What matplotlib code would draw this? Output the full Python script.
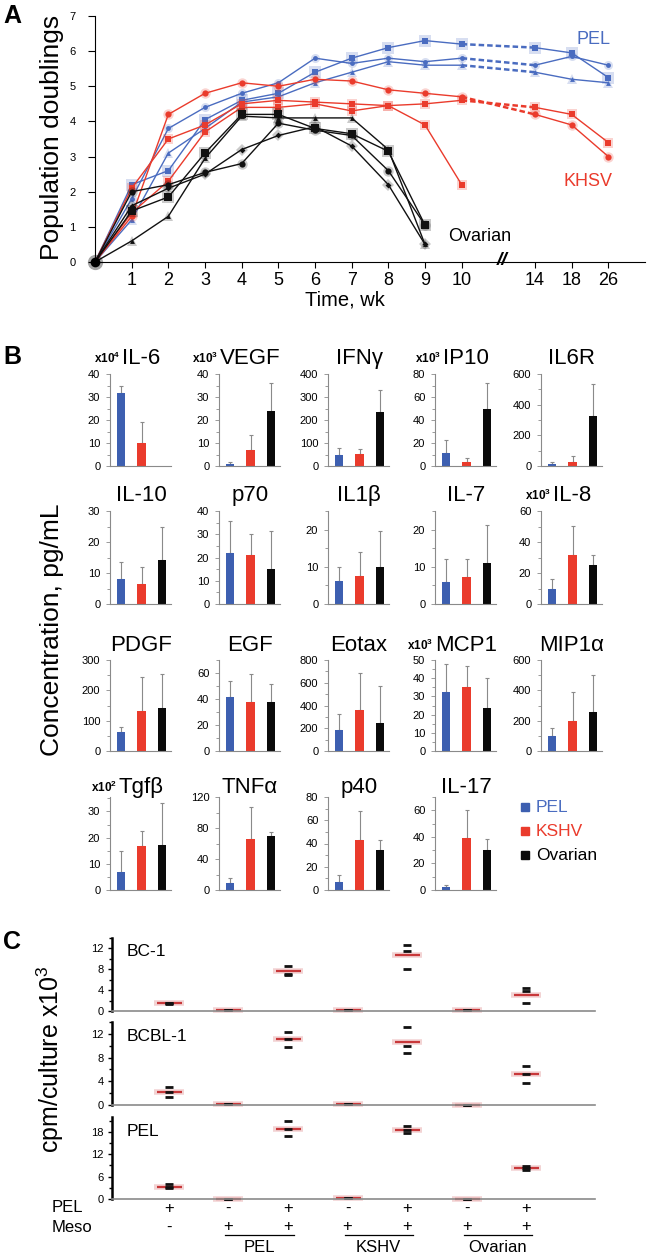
import numpy as np
import matplotlib
matplotlib.use('Agg')
import matplotlib.pyplot as plt
import matplotlib.transforms as mtransforms
from matplotlib.patches import Rectangle
from matplotlib.lines import Line2D
from matplotlib.ticker import AutoMinorLocator

plt.rcParams['font.family'] = ['Liberation Sans', 'DejaVu Sans']
plt.rcParams['mathtext.fontset'] = 'custom'
plt.rcParams['mathtext.rm'] = 'Liberation Sans'
plt.rcParams['mathtext.bf'] = 'Liberation Sans:bold'

W, H = 650, 1259
BLUE = '#3d5fb0'
LBLUE = '#4a6cc0'
RED = '#ea3b2c'
DRED = '#c8383a'

# ---------------- data: A, population doublings ----------------
weeks = [0, 1, 2, 3, 4, 5, 6, 7, 8, 9, 10, 14, 18, 26]
slots = list(range(11)) + [12, 13, 14]   # broken time axis
pel_growth = [
    [0, 2.2, 2.6, 4.05, 4.6, 4.8, 5.4, 5.8, 6.1, 6.3, 6.2, 6.1, 5.95, 5.25],
    [0, 1.8, 3.8, 4.4, 4.8, 5.1, 5.8, 5.65, 5.8, 5.7, 5.8, 5.6, 5.85, 5.6],
    [0, 1.2, 3.1, 3.8, 4.55, 4.7, 5.1, 5.4, 5.7, 5.6, 5.6, 5.4, 5.2, 5.1],
]
kshv_growth = [
    [0, 1.3, 4.2, 4.8, 5.1, 5.0, 5.2, 5.15, 4.9, 4.8, 4.7, 4.2, 3.9, 3.0],
    [0, 2.1, 3.5, 3.9, 4.5, 4.6, 4.55, 4.5, 4.45, 4.5, 4.6, 4.4, 4.2, 3.4],
    [0, 1.4, 2.3, 3.7, 4.4, 4.4, 4.5, 4.3, 4.45, 3.9, 2.2],
]
ovarian_growth = [
    [0, 1.45, 1.85, 3.1, 4.2, 4.2, 3.8, 3.65, 3.15, 1.05],
    [0, 2.0, 2.2, 2.55, 2.8, 3.95, 3.75, 3.6, 2.6, 1.05],
    [0, 0.6, 1.3, 2.95, 4.15, 4.1, 4.1, 4.1, 3.2, 0.5],
    [0, 1.6, 2.1, 2.5, 3.2, 3.6, 3.85, 3.3, 2.2, 0.5],
]

# ---------------- data: B, cytokines ----------------
cytokines = ['IL-6', 'VEGF', 'IFNγ', 'IP10', 'IL6R',
             'IL-10', 'p70', 'IL1β', 'IL-7', 'IL-8',
             'PDGF', 'EGF', 'Eotax', 'MCP1', 'MIP1α',
             'Tgfβ', 'TNFα', 'p40', 'IL-17']
exponents = ['4', '3', '', '3', '', '', '', '', '', '3',
             '', '', '', '3', '', '2', '', '', '']
pel_conc = [31.6, 1.0, 48, 11, 13, 8.2, 21.8, 6.2, 6.0, 9.6,
            62, 41.8, 187, 32.4, 99, 7.0, 9.4, 6.9, 2.5]
kshv_conc = [9.8, 7.0, 52, 3.8, 28, 6.6, 21.0, 7.6, 7.3, 31.5,
             132, 37.5, 358, 35, 200, 16.9, 65.4, 43, 39]
ovarian_conc = [0, 23.8, 233, 50, 328, 14.1, 15.2, 9.9, 10.9, 25.4,
                141, 37.5, 246, 23.9, 260, 17.3, 70, 34, 30]
pel_err = [3.4, 0.6, 29, 11.5, 15, 5.4, 13.8, 3.8, 6.1, 6.5,
           18, 12.2, 142, 15.6, 51, 7.7, 5.6, 5.6, 1.3]
kshv_err = [9.4, 6.6, 20, 2.9, 37, 5.3, 9.2, 6.4, 4.8, 18.9,
            113, 21.5, 332, 11.6, 186, 5.8, 42.1, 25, 21.2]
ovarian_err = [0, 12.2, 97, 22, 207, 10.6, 16.3, 9.7, 10.3, 6.5,
               113, 14, 325, 16.4, 243, 16, 5, 9, 8.5]
y_max = [40, 40, 400, 80, 600, 30, 40, 25, 25, 60,
         300, 70, 800, 50, 600, 35.5, 120, 80, 70]
y_step = [10, 10, 100, 20, 200, 10, 10, 10, 10, 20,
          100, 20, 200, 10, 200, 10, 40, 20, 20]

# ---------------- data: C, proliferation ----------------
cell_lines = ['BC-1', 'BCBL-1', 'PEL']
pel_signs = ['+', '-', '+', '-', '+', '-', '+']
meso_signs = ['-', '+', '+', '+', '+', '+', '+']
meso_groups = ['PEL', 'KSHV', 'Ovarian']
cpm_means = [
    [1.5, 0.2, 7.6, 0.2, 10.8, 0.2, 3.1],
    [2.2, 0.2, 11.1, 0.1, 10.6, 0.0, 5.2],
    [3.3, 0.1, 18.8, 0.4, 18.5, 0.1, 8.3],
]
cpm_points = [
    [[1.4, 1.6, 1.5], [0.2, 0.2, 0.2], [8.7, 7.1, 7.0], [0.2, 0.2, 0.2],
     [12.6, 11.6, 8.0], [0.2, 0.2, 0.2], [4.4, 3.8, 1.5]],
    [[3.1, 2.2, 1.3], [0.2, 0.2, 0.2], [12.3, 11.1, 9.8], [0.1, 0.1, 0.1],
     [13.2, 10.0, 8.7], [0.0, 0.0, 0.0], [6.6, 5.2, 3.7]],
    [[4.0, 3.3, 2.9], [0.1, 0.1, 0.1], [20.8, 18.8, 17.0], [0.4, 0.4, 0.4],
     [19.5, 18.5, 17.6], [0.1, 0.1, 0.1], [8.9, 8.3, 7.8]],
]
cpm_max = [14, 14, 22]
cpm_ticks = [[0, 4, 8, 12], [0, 4, 8, 12], [0, 6, 12, 18]]


fig = plt.figure(figsize=(W / 100, H / 100), dpi=100)


def box(l, t, r, b):
    return [l / W, 1 - b / H, (r - l) / W, (b - t) / H]


def put(x, y, s, **kw):
    return fig.text(x / W, 1 - y / H, s, **kw)


# ================= A =================
axA = fig.add_axes(box(95, 16, 645, 262))
axA.set_xlim(0, 15)
axA.set_ylim(0, 7)
for s in ['top', 'right']:
    axA.spines[s].set_visible(False)
axA.set_xticks(slots[1:])
axA.set_xticklabels([str(w) for w in weeks[1:]], fontsize=13)
axA.set_yticks(range(8))
axA.tick_params(axis='y', labelsize=8, length=5, pad=9)
axA.tick_params(axis='x', length=4, pad=3)


def growth(vals, color, marker, ms):
    x = np.array(slots[:len(vals)])
    y = np.array(vals)
    axA.plot(x[:11], y[:11], color=color, lw=1, clip_on=False)
    if len(vals) > 11:
        axA.plot(x[10:12], y[10:12], color=color, lw=1.8, ls=(0, (2.2, 1.2)))
        axA.plot(x[11:], y[11:], color=color, lw=1)
    axA.plot(x[1:], y[1:], ls='none', marker=marker, ms=ms + 3, color=color,
             alpha=0.22, mew=0)
    axA.plot(x[1:], y[1:], ls='none', marker=marker, ms=ms, color=color, mew=0)


for vals, mk, ms in zip(pel_growth, ['s', 'o', '^'], [5, 3.5, 3.5]):
    growth(vals, LBLUE, mk, ms)
for vals, mk, ms in zip(kshv_growth, ['o', 's', 's'], [4.5, 4.5, 4]):
    growth(vals, RED, mk, ms)
for vals, mk, ms in zip(ovarian_growth, ['s', 'o', '^', 'D'], [6, 4.5, 3.5, 3]):
    growth(vals, '#111111', mk, ms)
axA.plot([0], [0], 'o', ms=11, color='k', alpha=0.35, mew=0, clip_on=False)
axA.plot([0], [0], 'o', ms=7, color='k', mew=0, clip_on=False)

put(52, 137, 'Population doublings', rotation=90, fontsize=19,
    ha='center', va='center')
put(345, 300, 'Time, wk', fontsize=14.5, ha='center', va='center')
put(502, 261, '//', fontsize=14, fontweight='bold', style='italic',
    ha='center', va='center')
put(593, 39, 'PEL', color=LBLUE, fontsize=13, ha='center', va='center')
put(588, 182, 'KHSV', color=RED, fontsize=13, ha='center', va='center')
put(480, 237, 'Ovarian', fontsize=13, ha='center', va='center')
put(3, 16, 'A', fontsize=18, fontweight='bold', va='center')

# ================= B =================
col_left = [110, 219, 328, 435, 541]
row_top = [374, 511, 660, 797]
row_bottom = [466, 604, 751, 890]
title_y = [356, 493, 643, 785]
bar_colors = [BLUE, RED, '#0a0a0a']

renderer = fig.canvas.get_renderer()
for i, name in enumerate(cytokines):
    r, c = divmod(i, 5)
    l = col_left[c]
    ax = fig.add_axes(box(l, row_top[r], l + 61, row_bottom[r]))
    vals = [pel_conc[i], kshv_conc[i], ovarian_conc[i]]
    errs = [pel_err[i], kshv_err[i], ovarian_err[i]]
    ax.bar([0, 1, 2], vals, width=0.42, color=bar_colors, zorder=2)
    for k in range(3):
        if errs[k] > 0:
            ax.errorbar([k], [vals[k]], yerr=[[0], [errs[k]]], fmt='none',
                        ecolor='#8a8a8a', elinewidth=0.8, capsize=1.5,
                        capthick=0.8, zorder=1)
    ax.set_xlim(-0.55, 2.45)
    ax.set_ylim(0, y_max[i])
    ax.set_yticks(np.arange(0, y_max[i] + 0.01, y_step[i]))
    ax.yaxis.set_minor_locator(AutoMinorLocator(2))
    ax.set_xticks([])
    for s in ['top', 'right']:
        ax.spines[s].set_visible(False)
    for s in ['left', 'bottom']:
        ax.spines[s].set_color('#8a8a8a')
        ax.spines[s].set_linewidth(0.8)
    ax.tick_params(axis='y', which='both', labelsize=8, color='#8a8a8a',
                   width=0.6, pad=4)
    ax.tick_params(axis='y', which='major', length=3)
    ax.tick_params(axis='y', which='minor', length=2)
    t = put(l + 31, title_y[r] + 8, name, fontsize=16, ha='center',
            va='baseline')
    if exponents[i]:
        x0 = t.get_window_extent(renderer).x0
        fig.text((x0 - 2) / W, 1 - (title_y[r] + 7) / H,
                 r'$\mathbf{x10^{%s}}$' % exponents[i], fontsize=8.5,
                 ha='right', va='baseline')

put(52, 630, 'Concentration, pg/mL', rotation=90, fontsize=19,
    ha='center', va='center')
put(3, 357, 'B', fontsize=18, fontweight='bold', va='center')

legend_y = [807, 831, 855]
for lab, col, tcol, y in zip(['PEL', 'KSHV', 'Ovarian'], bar_colors,
                             [LBLUE, RED, '#000000'], legend_y):
    fig.patches.append(Rectangle((521 / W, 1 - (y + 4) / H), 8 / W, 8 / H,
                                 transform=fig.transFigure, color=col))
    put(536, y, lab, color=tcol, fontsize=12.5, va='center')

# ================= C =================
c_top = [938, 1022, 1117]
c_bottom = [1011, 1105, 1199]
groups = np.arange(1, 8)
axes_c = []
for j, line in enumerate(cell_lines):
    ax = fig.add_axes(box(112, c_top[j], 595, c_bottom[j]))
    axes_c.append(ax)
    ax.set_xlim(0.05, 8.15)
    ax.set_ylim(0, cpm_max[j])
    ax.set_yticks(cpm_ticks[j])
    ax.yaxis.set_minor_locator(AutoMinorLocator(2))
    ax.set_xticks([])
    for s in ['top', 'right']:
        ax.spines[s].set_visible(False)
    ax.spines['left'].set_linewidth(1.8)
    ax.spines['bottom'].set_color('#8a8a8a')
    ax.spines['bottom'].set_linewidth(1.2)
    ax.tick_params(axis='y', which='both', labelsize=8, width=1, pad=3)
    ax.tick_params(axis='y', which='major', length=3)
    ax.tick_params(axis='y', which='minor', length=2)
    ax.plot(groups, cpm_means[j], ls='none', marker='_', ms=22, mew=4,
            color=DRED, alpha=0.22, clip_on=False)
    ax.plot(groups, cpm_means[j], ls='none', marker='_', ms=18, mew=1.6,
            color=DRED, clip_on=False)
    for g, pts in zip(groups, cpm_points[j]):
        ax.plot([g] * len(pts), pts, ls='none', marker='_', ms=5.5, mew=2.0,
                color='#111111', clip_on=False)
    ax.text(0.3, cpm_max[j] * 0.82, line, fontsize=12.5, va='center')

axC = axes_c[-1]
blend = mtransforms.blended_transform_factory(axC.transData, fig.transFigure)
for g, ps, ms in zip(groups, pel_signs, meso_signs):
    axC.text(g, 1 - 1208 / H, ps, transform=blend, fontsize=12,
             ha='center', va='center')
    axC.text(g, 1 - 1227 / H, ms, transform=blend, fontsize=12,
             ha='center', va='center')
for k, lab in enumerate(meso_groups):
    a, b = groups[1 + 2 * k], groups[2 + 2 * k]
    axC.add_line(Line2D([a - 0.05, b + 0.1], [1 - 1235 / H] * 2,
                        transform=blend, color='k', lw=0.9, clip_on=False))
    axC.text((a + b) / 2 + 0.02, 1 - 1248 / H, lab, transform=blend,
             fontsize=12, ha='center', va='center')
put(52, 1208, 'PEL', fontsize=12, va='center')
put(52, 1227, 'Meso', fontsize=12, va='center')

put(50, 1059, r'cpm/culture x10$^3$', rotation=90, fontsize=18,
    ha='center', va='center')
put(3, 942, 'C', fontsize=18, fontweight='bold', va='center')

fig.savefig('out.png', dpi=100)
